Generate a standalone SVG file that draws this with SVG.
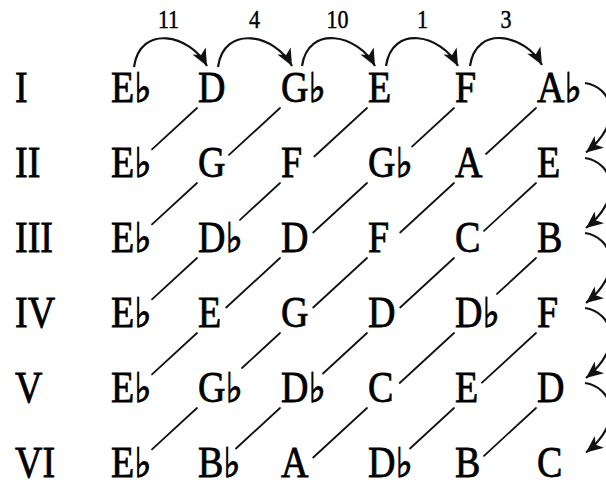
<svg xmlns="http://www.w3.org/2000/svg" width="606" height="486" viewBox="0 0 606 486">
<defs>
<style>
text{font-family:'Liberation Serif','Times New Roman','DejaVu Serif',serif;fill:#000;stroke:#000;}
.n{font-size:38px;stroke-width:0.7;}
.num{font-size:22px;text-anchor:middle;stroke-width:0.4;}
.fl{font-family:'DejaVu Sans',sans-serif;font-size:36px;stroke-width:0.9;}
.ln{stroke:#111;stroke-width:1.8;fill:none;stroke-linecap:round;}
.arc{stroke:#111;stroke-width:2.2;fill:none;marker-end:url(#ah);}
</style>
<marker id="ah" viewBox="-18 -8 19 16" markerWidth="19" markerHeight="16" refX="0" refY="0" orient="auto" markerUnits="userSpaceOnUse">
<path d="M0,0 L-17,-7.5 L-12.5,0 L-17,7.5 Z" fill="#111"/>
</marker>
</defs>
<rect width="606" height="486" fill="#fff"/>
<g id="row-labels">
<text class="n" transform="translate(15,102) scale(1,1.14)">I</text>
<text class="n" transform="translate(15,177) scale(1,1.14)">II</text>
<text class="n" transform="translate(15,252) scale(1,1.14)">III</text>
<text class="n" transform="translate(15,327) scale(1,1.14)">IV</text>
<text class="n" transform="translate(15,402) scale(1,1.14)">V</text>
<text class="n" transform="translate(15,476.5) scale(1,1.14)">VI</text>
</g>
<g id="interval-labels">
<text class="num" transform="translate(168.5,28) scale(1,1.15)">11</text>
<text class="num" transform="translate(254.5,28) scale(1,1.15)">4</text>
<text class="num" transform="translate(337.5,28) scale(1,1.15)">10</text>
<text class="num" transform="translate(422.5,28) scale(1,1.15)">1</text>
<text class="num" transform="translate(506,28) scale(1,1.15)">3</text>
</g>
<g id="nodes">
<g id="r1c1"><text class="n" transform="translate(111,102) scale(1,1.14)">E<tspan class="fl">♭</tspan></text></g>
<g id="r1c2"><text class="n" transform="translate(198,102) scale(1,1.14)">D</text></g>
<g id="r1c3"><text class="n" transform="translate(281,102) scale(1,1.14)">G<tspan class="fl">♭</tspan></text></g>
<g id="r1c4"><text class="n" transform="translate(368,102) scale(1,1.14)">E</text></g>
<g id="r1c5"><text class="n" transform="translate(455,102) scale(1,1.14)">F</text></g>
<g id="r1c6"><text class="n" transform="translate(537,102) scale(1,1.14)">A<tspan class="fl">♭</tspan></text></g>

<g id="r2c1"><text class="n" transform="translate(111,177) scale(1,1.14)">E<tspan class="fl">♭</tspan></text></g>
<g id="r2c2"><text class="n" transform="translate(198,177) scale(1,1.14)">G</text></g>
<g id="r2c3"><text class="n" transform="translate(281,177) scale(1,1.14)">F</text></g>
<g id="r2c4"><text class="n" transform="translate(368,177) scale(1,1.14)">G<tspan class="fl">♭</tspan></text></g>
<g id="r2c5"><text class="n" transform="translate(455,177) scale(1,1.14)">A</text></g>
<g id="r2c6"><text class="n" transform="translate(537,177) scale(1,1.14)">E</text></g>

<g id="r3c1"><text class="n" transform="translate(111,252) scale(1,1.14)">E<tspan class="fl">♭</tspan></text></g>
<g id="r3c2"><text class="n" transform="translate(198,252) scale(1,1.14)">D<tspan class="fl">♭</tspan></text></g>
<g id="r3c3"><text class="n" transform="translate(281,252) scale(1,1.14)">D</text></g>
<g id="r3c4"><text class="n" transform="translate(368,252) scale(1,1.14)">F</text></g>
<g id="r3c5"><text class="n" transform="translate(455,252) scale(1,1.14)">C</text></g>
<g id="r3c6"><text class="n" transform="translate(537,252) scale(1,1.14)">B</text></g>

<g id="r4c1"><text class="n" transform="translate(111,327) scale(1,1.14)">E<tspan class="fl">♭</tspan></text></g>
<g id="r4c2"><text class="n" transform="translate(198,327) scale(1,1.14)">E</text></g>
<g id="r4c3"><text class="n" transform="translate(281,327) scale(1,1.14)">G</text></g>
<g id="r4c4"><text class="n" transform="translate(368,327) scale(1,1.14)">D</text></g>
<g id="r4c5"><text class="n" transform="translate(455,327) scale(1,1.14)">D<tspan class="fl">♭</tspan></text></g>
<g id="r4c6"><text class="n" transform="translate(537,327) scale(1,1.14)">F</text></g>

<g id="r5c1"><text class="n" transform="translate(111,402) scale(1,1.14)">E<tspan class="fl">♭</tspan></text></g>
<g id="r5c2"><text class="n" transform="translate(198,402) scale(1,1.14)">G<tspan class="fl">♭</tspan></text></g>
<g id="r5c3"><text class="n" transform="translate(281,402) scale(1,1.14)">D<tspan class="fl">♭</tspan></text></g>
<g id="r5c4"><text class="n" transform="translate(368,402) scale(1,1.14)">C</text></g>
<g id="r5c5"><text class="n" transform="translate(455,402) scale(1,1.14)">E</text></g>
<g id="r5c6"><text class="n" transform="translate(537,402) scale(1,1.14)">D</text></g>

<g id="r6c1"><text class="n" transform="translate(111,476.5) scale(1,1.14)">E<tspan class="fl">♭</tspan></text></g>
<g id="r6c2"><text class="n" transform="translate(198,476.5) scale(1,1.14)">B<tspan class="fl">♭</tspan></text></g>
<g id="r6c3"><text class="n" transform="translate(281,476.5) scale(1,1.14)">A</text></g>
<g id="r6c4"><text class="n" transform="translate(368,476.5) scale(1,1.14)">D<tspan class="fl">♭</tspan></text></g>
<g id="r6c5"><text class="n" transform="translate(455,476.5) scale(1,1.14)">B</text></g>
<g id="r6c6"><text class="n" transform="translate(537,476.5) scale(1,1.14)">C</text></g>
</g>
<g id="connectors">
<g id="diagonals">
<line class="ln" x1="197" y1="108" x2="152" y2="149.4"/>
<line class="ln" x1="280" y1="108" x2="229" y2="154.9"/>
<line class="ln" x1="367" y1="108" x2="314.3" y2="156.5"/>
<line class="ln" x1="454" y1="108" x2="412" y2="146.6"/>
<line class="ln" x1="536" y1="108" x2="486" y2="154"/>

<line class="ln" x1="197" y1="183" x2="152" y2="224.4"/>
<line class="ln" x1="280" y1="183" x2="240" y2="219.8"/>
<line class="ln" x1="367" y1="183" x2="313.2" y2="232.5"/>
<line class="ln" x1="454" y1="183" x2="400.2" y2="232.5"/>
<line class="ln" x1="536" y1="183" x2="484" y2="230.8"/>

<line class="ln" x1="197" y1="258" x2="152" y2="299.4"/>
<line class="ln" x1="280" y1="258" x2="226.2" y2="307.5"/>
<line class="ln" x1="367" y1="258" x2="313.2" y2="307.5"/>
<line class="ln" x1="454" y1="258" x2="400.2" y2="307.5"/>
<line class="ln" x1="536" y1="258" x2="497" y2="293.9"/>

<line class="ln" x1="197" y1="333" x2="152" y2="374.4"/>
<line class="ln" x1="280" y1="333" x2="242" y2="368"/>
<line class="ln" x1="367" y1="333" x2="323" y2="373.5"/>
<line class="ln" x1="454" y1="333" x2="399.7" y2="383"/>
<line class="ln" x1="536" y1="333" x2="482" y2="382.7"/>

<line class="ln" x1="197" y1="408" x2="152" y2="449.4"/>
<line class="ln" x1="280" y1="408" x2="236" y2="448.5"/>
<line class="ln" x1="367" y1="408" x2="313.2" y2="457.5"/>
<line class="ln" x1="454" y1="408" x2="410" y2="448.5"/>
<line class="ln" x1="536" y1="408" x2="484" y2="455.8"/>
</g>
<g id="top-arcs">
<path class="arc" d="M134,67 C140,24 190,34 207,66"/>
<path class="arc" d="M218,67 C224,24 275,34 292,66"/>
<path class="arc" d="M302,66 C308,24 358,34 375,66"/>
<path class="arc" d="M386,66 C392,24 441,34 458,66"/>
<path class="arc" d="M470,66 C476,24 525,34 542,65"/>
</g>
<g id="side-arcs">
<path class="arc" d="M585,83 C612,87 625,121 586,152.5"/>
<path class="arc" d="M585,158 C612,162 625,197 586,228"/>
<path class="arc" d="M585,233 C612,237 625,272 586,303"/>
<path class="arc" d="M585,308 C612,312 625,347 586,378"/>
<path class="arc" d="M585,383 C612,387 625,421.5 586,452.5"/>
</g>
</g>
</svg>
